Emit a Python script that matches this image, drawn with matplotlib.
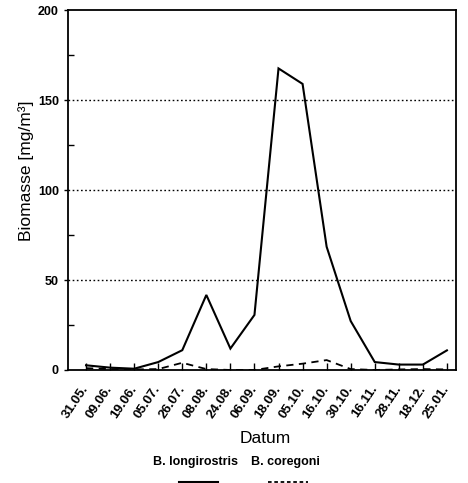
import matplotlib

matplotlib.use("Agg")
import matplotlib.pyplot as plt
from matplotlib.lines import Line2D
import numpy as np

plt.rcParams["font.family"] = ["Liberation Sans", "DejaVu Sans"]

dates = ["31.05.", "09.06.", "19.06.", "05.07.", "26.07.", "08.08.", "24.08.", "06.09.",
         "18.09.", "05.10.", "16.10.", "30.10.", "16.11.", "28.11.", "18.12.", "25.01."]
longirostris = [2.6, 1.3, 0.7, 4.4, 11.0, 41.7, 11.9, 30.6,
                167.6, 159.0, 68.5, 27.2, 4.4, 3.0, 3.0, 10.9]
coregoni = [1.0, 0.5, 0.3, 0.5, 4.0, 0.5, 0.0, 0.0,
            2.0, 3.5, 5.5, 0.5, 0.0, 0.3, 0.5, 0.3]
y_major = [0, 50, 100, 150, 200]
y_minor = [25, 75, 125, 175]
grid_levels = [50, 100, 150]

fig = plt.figure(figsize=(4.68, 4.83), dpi=100)
ax = fig.add_axes([0.1453, 0.234, 0.8287, 0.745])

x = np.arange(len(dates))
ax.plot(x, longirostris, color="black", linewidth=1.5, solid_joinstyle="miter")
ax.plot(x, coregoni, color="black", linewidth=1.3, linestyle=(0, (4, 3)))
for lvl in grid_levels:
    ax.axhline(lvl, color="black", linewidth=1.0, linestyle=(0, (1.2, 1.8)), zorder=0)

ax.set_xlim(-0.75, len(dates) - 1 + 0.37)
ax.set_ylim(0, 200)
ax.set_xticks(x)
ax.set_xticklabels(dates, rotation=56, ha="right", va="center", rotation_mode="anchor",
                   fontsize=9.5, fontweight="bold")
ax.tick_params(axis="x", direction="in", length=5, width=1, pad=12)
ax.set_yticks(y_major)
ax.set_yticklabels([str(v) for v in y_major], fontsize=9, fontweight="bold")
ax.set_yticks(y_minor, minor=True)
ax.tick_params(axis="y", which="major", direction="out", length=3, width=1)
ax.tick_params(axis="y", which="minor", direction="in", length=4, width=1)
for s in ax.spines.values():
    s.set_linewidth(1.3)

fig.text(0.056, 0.646, "Biomasse [mg/m\u00b3]", rotation=90, ha="center", va="center", fontsize=12.5)
fig.text(0.566, 0.093, "Datum", ha="center", va="center", fontsize=12.5)

fig.text(0.418, 0.044, "B. longirostris", ha="center", va="center", fontsize=9, fontweight="bold")
fig.text(0.610, 0.044, "B. coregoni", ha="center", va="center", fontsize=9, fontweight="bold")
fig.add_artist(Line2D([0.382, 0.466], [0.003, 0.003], color="black", linewidth=1.5))
fig.add_artist(Line2D([0.573, 0.658], [0.003, 0.003], color="black", linewidth=1.3, linestyle=(0, (2, 1.5))))

fig.savefig("out.png", dpi=100)
